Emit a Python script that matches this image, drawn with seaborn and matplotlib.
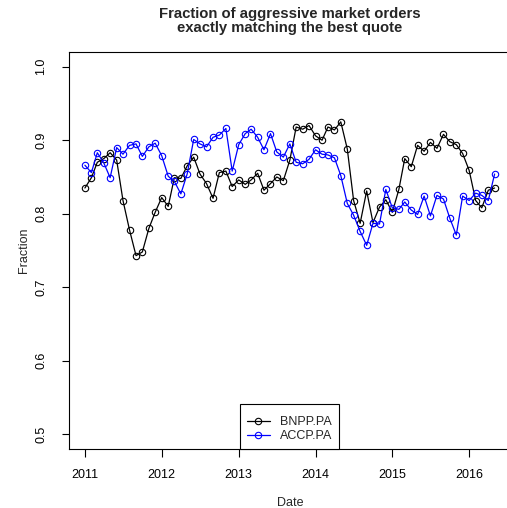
import matplotlib
matplotlib.use("Agg")
import matplotlib.pyplot as plt
import matplotlib.dates as mdates
import seaborn as sns
import pandas as pd

# Monthly series, Jan 2011 - May 2016
dates = pd.date_range("2011-01-01", periods=65, freq="MS")

bnpp = [
    0.835, 0.849, 0.870, 0.875, 0.883, 0.873, 0.818, 0.778, 0.743, 0.748,
    0.780, 0.802, 0.822, 0.810, 0.849, 0.848, 0.865, 0.877, 0.854, 0.841,
    0.821, 0.856, 0.858, 0.837, 0.846, 0.840, 0.846, 0.855, 0.832, 0.841,
    0.850, 0.845, 0.873, 0.918, 0.915, 0.920, 0.906, 0.900, 0.918, 0.914,
    0.925, 0.888, 0.818, 0.787, 0.831, 0.788, 0.809, 0.819, 0.802, 0.833,
    0.875, 0.864, 0.893, 0.885, 0.897, 0.889, 0.908, 0.898, 0.894, 0.882,
    0.859, 0.818, 0.808, 0.832, 0.835,
]
accp = [
    0.866, 0.856, 0.883, 0.869, 0.849, 0.890, 0.881, 0.893, 0.895, 0.878,
    0.891, 0.896, 0.879, 0.851, 0.844, 0.827, 0.854, 0.901, 0.895, 0.891,
    0.904, 0.907, 0.916, 0.858, 0.894, 0.909, 0.915, 0.904, 0.887, 0.909,
    0.884, 0.877, 0.895, 0.870, 0.868, 0.874, 0.887, 0.881, 0.880, 0.876,
    0.852, 0.814, 0.798, 0.776, 0.757, 0.787, 0.786, 0.833, 0.808, 0.806,
    0.816, 0.805, 0.799, 0.824, 0.797, 0.825, 0.820, 0.794, 0.771, 0.824,
    0.818, 0.828, 0.825, 0.818, 0.854,
]
series_names = ["BNPP.PA", "ACCP.PA"]
series_colors = ["black", "blue"]
year_ticks = pd.date_range("2011-01-01", "2016-01-01", freq="YS")
y_ticks = [0.5, 0.6, 0.7, 0.8, 0.9, 1.0]

sns.set_style("white")
plt.rcParams["font.family"] = ["Liberation Sans", "DejaVu Sans"]

fig = plt.figure(figsize=(5.07, 5.08), dpi=100, facecolor="w")
# plot region runs past the right edge, like the reference crop
ax = fig.add_axes([68.5 / 507, 59 / 508, 442.5 / 507, 397 / 508])

for vals, name, col in zip([bnpp, accp], series_names, series_colors):
    sns.lineplot(
        x=dates,
        y=vals,
        ax=ax,
        color=col,
        label=name,
        marker="o",
        markersize=4.6,
        markerfacecolor="none",
        markeredgecolor=col,
        markeredgewidth=0.8,
        linewidth=0.9,
    )

# R style 4% padding
x0 = mdates.date2num(dates[0])
x1 = mdates.date2num(dates[-1])
pad = (x1 - x0) * 0.04
ax.set_xlim(x0 - pad, x1 + pad)
ax.set_ylim(0.48, 1.02)

ax.set_xticks(year_ticks)
ax.xaxis.set_major_formatter(mdates.DateFormatter("%Y"))
ax.set_yticks(y_ticks)
ax.set_yticklabels(["%.1f" % v for v in y_ticks], rotation=90, va="center")

ax.tick_params(axis="both", direction="out", length=5.4, width=0.8,
               colors="black", labelsize=9)
ax.tick_params(axis="x", pad=9)
ax.tick_params(axis="y", pad=10)
ax.tick_params(bottom=True, left=True)

for sp in ax.spines.values():
    sp.set_color("black")
    sp.set_linewidth(0.8)

ax.set_xlabel("Date", fontsize=9)
ax.set_ylabel("Fraction", fontsize=9)
ax.xaxis.set_label_coords(0.5, -0.122)
ax.yaxis.set_label_coords(-0.088, 0.5)

ax.set_title(
    "Fraction of aggressive market orders\nexactly matching the best quote",
    fontsize=10.7,
    fontweight="bold",
    y=1.05,
    pad=0,
    linespacing=1.0,
)

# blank tiny title just gives the extra room above the rows, as in R
leg = ax.legend(
    loc="lower center",
    borderaxespad=0,
    fancybox=False,
    framealpha=1,
    edgecolor="black",
    fontsize=9,
    title=" ",
    title_fontsize=2.5,
    handlelength=1.8,
    handletextpad=0.85,
    borderpad=0.55,
    labelspacing=0.15,
)
leg.get_frame().set_linewidth(0.8)

fig.savefig("out.png", dpi=100)
plt.close()
